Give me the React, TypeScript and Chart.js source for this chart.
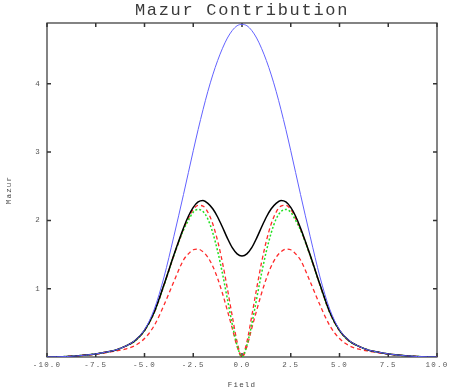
import React, { useEffect, useRef } from "react";
import { Chart, registerables } from "chart.js";

Chart.register(...registerables);

const TITLE = "Mazur Contribution";
const X_TITLE = "Field";
const Y_TITLE = "Mazur";

const fieldValues = [
  -10, -9.5, -9, -8.5, -8, -7.5, -7, -6.5, -6, -5.5, -5, -4.5, -4, -3.5,
  -3, -2.75, -2.5, -2.25, -2, -1.75, -1.5, -1.25, -1, -0.75, -0.5, -0.25, 0,
  0.25, 0.5, 0.75, 1, 1.25, 1.5, 1.75, 2, 2.25, 2.5, 2.75, 3,
  3.5, 4, 4.5, 5, 5.5, 6, 6.5, 7, 7.5, 8, 8.5, 9, 9.5, 10,
];

const blueValues = [
  0.001, 0.003, 0.007, 0.015, 0.028, 0.045, 0.07, 0.10, 0.155, 0.24, 0.40, 0.70, 1.17, 1.76,
  2.38, 2.70, 3.02, 3.33, 3.62, 3.89, 4.13, 4.34, 4.52, 4.67, 4.78, 4.85, 4.87,
  4.85, 4.78, 4.67, 4.52, 4.34, 4.13, 3.89, 3.62, 3.33, 3.02, 2.70, 2.38,
  1.76, 1.17, 0.70, 0.40, 0.24, 0.155, 0.10, 0.07, 0.045, 0.028, 0.015, 0.007, 0.003, 0.001,
];

const blackValues = [
  0.001, 0.003, 0.007, 0.015, 0.028, 0.045, 0.07, 0.10, 0.155, 0.235, 0.39, 0.66, 1.06, 1.49,
  1.89, 2.06, 2.19, 2.27, 2.29, 2.25, 2.17, 2.05, 1.90, 1.74, 1.60, 1.51, 1.48,
  1.51, 1.60, 1.74, 1.90, 2.05, 2.17, 2.25, 2.29, 2.27, 2.19, 2.06, 1.89,
  1.49, 1.06, 0.66, 0.39, 0.235, 0.155, 0.10, 0.07, 0.045, 0.028, 0.015, 0.007, 0.003, 0.001,
];

const greenValues = [
  0.001, 0.003, 0.007, 0.015, 0.028, 0.045, 0.07, 0.10, 0.155, 0.232, 0.385, 0.65, 1.05, 1.48,
  1.86, 2.00, 2.12, 2.16, 2.13, 2.02, 1.82, 1.55, 1.22, 0.85, 0.48, 0.17, 0,
  0.17, 0.48, 0.85, 1.22, 1.55, 1.82, 2.02, 2.13, 2.16, 2.12, 2.00, 1.86,
  1.48, 1.05, 0.65, 0.385, 0.232, 0.155, 0.10, 0.07, 0.045, 0.028, 0.015, 0.007, 0.003, 0.001,
];

const redUpperValues = [
  0.001, 0.003, 0.007, 0.015, 0.028, 0.045, 0.07, 0.10, 0.155, 0.232, 0.385, 0.65, 1.05, 1.48,
  1.87, 2.03, 2.16, 2.22, 2.21, 2.12, 1.95, 1.70, 1.38, 1.00, 0.60, 0.22, 0,
  0.22, 0.60, 1.00, 1.38, 1.70, 1.95, 2.12, 2.21, 2.22, 2.16, 2.03, 1.87,
  1.48, 1.05, 0.65, 0.385, 0.232, 0.155, 0.10, 0.07, 0.045, 0.028, 0.015, 0.007, 0.003, 0.001,
];

const redLowerValues = [
  0.001, 0.003, 0.007, 0.015, 0.028, 0.044, 0.062, 0.085, 0.115, 0.165, 0.27, 0.46, 0.76, 1.10,
  1.42, 1.51, 1.57, 1.58, 1.54, 1.46, 1.33, 1.15, 0.93, 0.68, 0.42, 0.15, 0,
  0.15, 0.42, 0.68, 0.93, 1.15, 1.33, 1.46, 1.54, 1.58, 1.57, 1.51, 1.42,
  1.10, 0.76, 0.46, 0.27, 0.165, 0.115, 0.085, 0.062, 0.044, 0.028, 0.015, 0.007, 0.003, 0.001,
];

const xTickStep = 2.5;
const yTickStep = 1;

const toPoints = (ys: number[]) => fieldValues.map((x, i) => ({ x, y: ys[i] }));

const spacingPlugin = {
  id: "letterSpacing",
  beforeInit(chart: any) {
    const ctx: any = chart.ctx;
    const setSpacing = () => {
      const m = /([\d.]+)px/.exec(ctx.font);
      const s = m ? parseFloat(m[1]) : 10;
      ctx.letterSpacing = (s >= 12 ? 1.7 : 1.2) + "px";
    };
    const ft = ctx.fillText.bind(ctx);
    ctx.fillText = (t: string, x: number, y: number, w?: number) => {
      setSpacing();
      if (w === undefined) ft(t, x, y);
      else ft(t, x, y, w);
    };
    const mt = ctx.measureText.bind(ctx);
    ctx.measureText = (t: string) => {
      setSpacing();
      return mt(t);
    };
  },
};

const framePlugin = {
  id: "frame",
  beforeDatasetsDraw(chart: any) {
    const { ctx, chartArea, scales } = chart;
    const { left, right, top, bottom } = chartArea;
    ctx.save();
    ctx.strokeStyle = "#333";
    ctx.lineWidth = 1.2;
    ctx.strokeRect(left, top, right - left, bottom - top);
    ctx.lineWidth = 1.5;
    ctx.beginPath();
    for (const t of scales.x.ticks) {
      const px = scales.x.getPixelForValue(t.value);
      ctx.moveTo(px, bottom);
      ctx.lineTo(px, bottom - 4);
      ctx.moveTo(px, top);
      ctx.lineTo(px, top + 4);
    }
    for (const t of scales.y.ticks) {
      if (t.value === 0) continue;
      const py = scales.y.getPixelForValue(t.value);
      ctx.moveTo(left, py);
      ctx.lineTo(left + 4, py);
      ctx.moveTo(right, py);
      ctx.lineTo(right - 4, py);
    }
    ctx.stroke();
    ctx.restore();
  },
};

export default function App() {
  const ref = useRef<HTMLCanvasElement>(null);

  useEffect(() => {
    if (!ref.current) return;
    const font = "'Liberation Mono', 'DejaVu Sans Mono', monospace";
    const line = (data: number[], color: string, width: number, dash: number[]) => ({
      data: toPoints(data),
      borderColor: color,
      backgroundColor: color,
      borderWidth: width,
      borderDash: dash,
      pointRadius: 0,
      fill: false,
      cubicInterpolationMode: "monotone" as const,
    });
    const chart = new Chart(ref.current, {
      type: "line",
      data: {
        datasets: [
          line(blueValues, "#6262ff", 1, []),
          line(blackValues, "#000000", 1.5, []),
          line(greenValues, "#22e022", 1.5, [2, 2]),
          line(redUpperValues, "#ff2a2a", 1.3, [4, 3]),
          line(redLowerValues, "#ff2a2a", 1.3, [4, 3]),
        ],
      },
      options: {
        animation: false,
        responsive: false,
        layout: { padding: { left: 0, right: 21, top: 0, bottom: 0 } },
        plugins: {
          legend: { display: false },
          tooltip: { enabled: false },
          title: {
            display: true,
            fullSize: false,
            text: TITLE,
            color: "#3a3a3a",
            font: { family: font, size: 17, weight: "normal", lineHeight: 1.2 },
            padding: { top: 0, bottom: 2.6 },
          },
        },
        scales: {
          x: {
            type: "linear",
            min: -10,
            max: 10,
            grid: { display: false, drawTicks: false },
            border: { display: false },
            ticks: {
              stepSize: xTickStep,
              autoSkip: false,
              maxRotation: 0,
              padding: 4,
              color: "#555",
              font: { family: font, size: 7.5 },
              callback: (v: any) => Number(v).toFixed(1),
            },
            title: {
              display: true,
              text: X_TITLE,
              color: "#444",
              font: { family: font, size: 7.5, lineHeight: 1.2 },
              padding: { top: 0, bottom: 2 },
            },
            afterFit: (s: any) => {
              s.height = 35;
            },
          },
          y: {
            type: "linear",
            min: 0,
            max: 4.89,
            grid: { display: false, drawTicks: false },
            border: { display: false },
            ticks: {
              stepSize: yTickStep,
              includeBounds: false,
              padding: 6,
              color: "#555",
              font: { family: font, size: 7.5 },
              callback: (v: any) => (Number(v) === 0 ? "" : String(v)),
            },
            title: {
              display: true,
              text: Y_TITLE,
              color: "#444",
              font: { family: font, size: 7.5, lineHeight: 1.2 },
              padding: { top: 5, bottom: 0 },
            },
            afterFit: (s: any) => {
              s.width = 47;
            },
          },
        },
      },
      plugins: [spacingPlugin, framePlugin],
    } as any);
    return () => chart.destroy();
  }, []);

  return (
    <div style={{ position: "absolute", left: 0, top: 0, width: 458, height: 392, background: "#fff" }}>
      <canvas ref={ref} width={458} height={392} style={{ display: "block" }} />
    </div>
  );
}
